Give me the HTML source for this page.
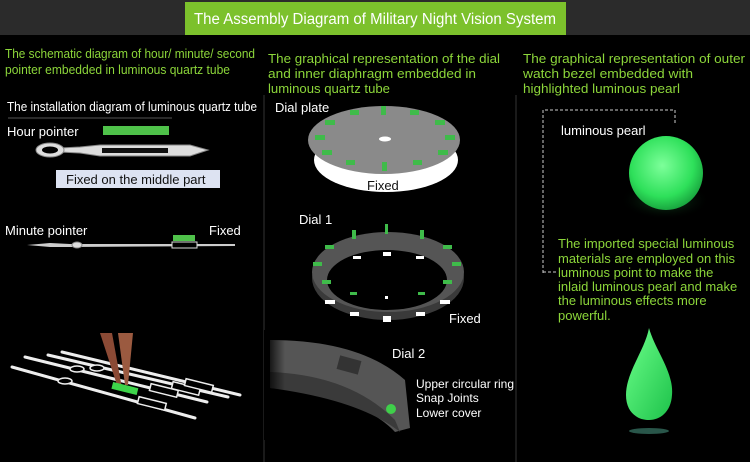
<!DOCTYPE html>
<html><head><meta charset="utf-8"><style>
body{margin:0;background:#000;}
svg{display:block;font-family:"Liberation Sans",sans-serif;}
</style></head><body>
<svg width="750" height="462" viewBox="0 0 750 462">
<defs>
<radialGradient id="pearl" cx="0.45" cy="0.4" r="0.6"><stop offset="0" stop-color="#7dff9a"/><stop offset="0.7" stop-color="#2ee05a"/><stop offset="1" stop-color="#1aa840"/></radialGradient>
<radialGradient id="glow" cx="0.5" cy="0.5" r="0.5"><stop offset="0" stop-color="#1f8a3a" stop-opacity="0.6"/><stop offset="1" stop-color="#000" stop-opacity="0"/></radialGradient>
<linearGradient id="drop" x1="0" y1="0" x2="1" y2="1"><stop offset="0" stop-color="#6cff8a"/><stop offset="1" stop-color="#1dc24a"/></linearGradient>
<linearGradient id="fade" x1="0" y1="0" x2="1" y2="0"><stop offset="0" stop-color="#000" stop-opacity="1"/><stop offset="0.3" stop-color="#000" stop-opacity="0"/></linearGradient>
</defs>
<rect width="750" height="462" fill="#000"/>
<rect width="750" height="35" fill="#2b2b2b"/>
<rect x="185" y="2" width="381" height="33" fill="#7cc12c"/>
<text x="375" y="24" font-size="15.5" fill="#fff" text-anchor="middle" textLength="362" lengthAdjust="spacingAndGlyphs">The Assembly Diagram of Military Night Vision System</text>
<line x1="264" y1="95" x2="264" y2="462" stroke="#333" stroke-width="1"/>
<line x1="516" y1="95" x2="516" y2="462" stroke="#333" stroke-width="1"/>

<g fill="#8cd63a" font-size="13">
<text x="5" y="58" textLength="250" lengthAdjust="spacingAndGlyphs">The schematic diagram of hour/ minute/ second</text>
<text x="5" y="74" textLength="225" lengthAdjust="spacingAndGlyphs">pointer embedded in luminous quartz tube</text>
<text x="268" y="63" textLength="232" lengthAdjust="spacingAndGlyphs">The graphical representation of the dial</text>
<text x="268" y="78" textLength="208" lengthAdjust="spacingAndGlyphs">and inner diaphragm embedded in</text>
<text x="268" y="93" textLength="122" lengthAdjust="spacingAndGlyphs">luminous quartz tube</text>
<text x="523" y="63" textLength="222" lengthAdjust="spacingAndGlyphs">The graphical representation of outer</text>
<text x="523" y="78" textLength="170" lengthAdjust="spacingAndGlyphs">watch bezel embedded with</text>
<text x="523" y="93" textLength="157" lengthAdjust="spacingAndGlyphs">highlighted luminous pearl</text>
</g>

<!-- left column -->
<text x="7" y="111" font-size="12.5" fill="#fff" textLength="250" lengthAdjust="spacingAndGlyphs">The installation diagram of luminous quartz tube</text>
<line x1="8" y1="118" x2="172" y2="118" stroke="#555"/>
<text x="7" y="136" font-size="13" fill="#fff">Hour pointer</text>
<rect x="103" y="126" width="66" height="9" fill="#4fc24a"/>
<g fill="#ddd" stroke="#888" stroke-width="1">
<path d="M60 148 L80 147 L100 145 L190 145 L208 150 L190 156 L100 156 L80 153 L60 152Z"/>
<ellipse cx="50" cy="150" rx="14" ry="7"/>
</g>
<ellipse cx="50" cy="150" rx="8" ry="3.5" fill="#000"/>
<rect x="102" y="148" width="66" height="5" fill="#111"/>
<rect x="56" y="170" width="164" height="18" fill="#dde3f2"/>
<text x="66" y="184" font-size="13" fill="#111">Fixed on the middle part</text>
<text x="5" y="235" font-size="13" fill="#fff">Minute pointer</text>
<text x="209" y="235" font-size="13" fill="#fff">Fixed</text>
<rect x="173" y="235" width="22" height="6" fill="#4fc24a"/>
<path d="M27 245 L50 243 L70 244 L235 244 L235 246 L70 247 L50 247Z" fill="#ccc"/>
<ellipse cx="77" cy="245" rx="5" ry="3" fill="#ddd" stroke="#888"/>
<rect x="172" y="242" width="25" height="6" fill="#000" stroke="#ddd"/>
<!-- hands with tweezers -->
<g stroke="#eee" stroke-width="3" fill="none" stroke-linecap="round">
<line x1="12" y1="367" x2="195" y2="418"/>
<line x1="25" y1="357" x2="207" y2="402"/>
<line x1="48" y1="355" x2="228" y2="397"/>
<line x1="62" y1="352" x2="240" y2="395"/>
</g>
<g stroke="#eee" stroke-width="1.5" fill="#000">
<rect x="138" y="400" width="28" height="7" transform="rotate(14 152 403)"/>
<rect x="150" y="387" width="28" height="7" transform="rotate(14 164 390)"/>
<rect x="172" y="385" width="28" height="7" transform="rotate(14 186 388)"/>
<rect x="185" y="382" width="28" height="7" transform="rotate(14 199 385)"/>
<ellipse cx="65" cy="381" rx="7" ry="3"/>
<ellipse cx="77" cy="369" rx="7" ry="3"/>
<ellipse cx="97" cy="368" rx="7" ry="3"/>
</g>
<polygon points="100,333 112,333 122,388 118,388" fill="#8b4a35"/>
<polygon points="118,333 133,333 128,385 125,385" fill="#9b5a40"/>
<rect x="112" y="385" width="26" height="7" fill="#3ed44a" transform="rotate(14 125 388)"/>

<!-- middle: dial plate -->
<text x="275" y="112" font-size="13" fill="#fff">Dial plate</text>
<ellipse cx="386" cy="160" rx="72" ry="32" fill="#fff"/>
<ellipse cx="384" cy="140" rx="76" ry="34" fill="#8a8a8a"/>
<ellipse cx="385" cy="139" rx="6" ry="2.5" fill="#fff"/>
<g fill="#3fbb4a">
<rect x="381" y="106" width="5" height="9"/><rect x="350" y="110" width="9" height="5"/><rect x="410" y="110" width="9" height="5"/>
<rect x="325" y="120" width="10" height="5"/><rect x="435" y="120" width="10" height="5"/>
<rect x="315" y="135" width="10" height="5"/><rect x="445" y="135" width="10" height="5"/>
<rect x="322" y="150" width="10" height="5"/><rect x="438" y="150" width="10" height="5"/>
<rect x="346" y="160" width="9" height="5"/><rect x="413" y="160" width="9" height="5"/>
<rect x="382" y="162" width="5" height="9"/>
</g>
<text x="367" y="190" font-size="13" fill="#111">Fixed</text>

<!-- Dial 1 -->
<text x="299" y="224" font-size="13" fill="#fff">Dial 1</text>
<ellipse cx="388" cy="278" rx="76" ry="42" fill="#3a3a3a"/>
<ellipse cx="388" cy="272" rx="76" ry="40" fill="#555"/>
<ellipse cx="387" cy="280" rx="60" ry="30" fill="#000"/>
<g fill="#3fbb4a">
<rect x="385" y="224" width="3" height="10"/><rect x="352" y="230" width="4" height="9"/><rect x="420" y="230" width="4" height="9"/>
<rect x="325" y="245" width="9" height="4"/><rect x="443" y="245" width="9" height="4"/>
<rect x="313" y="262" width="9" height="4"/><rect x="452" y="262" width="9" height="4"/>
<rect x="322" y="280" width="9" height="4"/><rect x="443" y="280" width="9" height="4"/>
<rect x="350" y="292" width="7" height="3"/><rect x="418" y="292" width="7" height="3"/>
</g>
<g fill="#fff">
<rect x="383" y="252" width="8" height="4"/><rect x="353" y="256" width="8" height="3"/><rect x="416" y="256" width="8" height="3"/>
<rect x="325" y="300" width="10" height="4"/><rect x="440" y="300" width="10" height="4"/>
<rect x="350" y="312" width="9" height="4"/><rect x="416" y="312" width="9" height="4"/>
<rect x="383" y="316" width="8" height="6"/><rect x="385" y="296" width="3" height="3"/>
</g>
<text x="449" y="323" font-size="13" fill="#fff">Fixed</text>

<!-- Dial 2 -->
<text x="392" y="358" font-size="13" fill="#fff">Dial 2</text>
<path d="M270 340 Q360 340 405 380 L410 428 L395 432 Q360 395 270 388Z" fill="#555"/>
<path d="M270 372 Q350 375 395 420 L400 432 Q360 400 270 388Z" fill="#3a3a3a"/>
<rect x="338" y="358" width="22" height="14" fill="#333" transform="rotate(15 349 365)"/>
<rect x="264" y="330" width="70" height="110" fill="url(#fade)"/>
<circle cx="391" cy="409" r="5" fill="#3fcf4a"/>
<g font-size="12" fill="#fff"><text x="416" y="388">Upper circular ring</text><text x="416" y="402">Snap Joints</text><text x="416" y="417">Lower cover</text></g>

<!-- right column -->
<path d="M543 273 V110 H675 V125" fill="none" stroke="#ccc" stroke-dasharray="3,2"/>
<line x1="543" y1="272" x2="556" y2="272" stroke="#ccc" stroke-dasharray="3,2"/>
<text x="561" y="135" font-size="13" fill="#fff">luminous pearl</text>
<ellipse cx="665" cy="200" rx="45" ry="20" fill="url(#glow)"/>
<circle cx="666" cy="173" r="37" fill="url(#pearl)"/>
<g fill="#8cd63a" font-size="13">
<text x="558" y="248">The imported special luminous</text>
<text x="558" y="263">materials are employed on this</text>
<text x="558" y="277">luminous point to make the</text>
<text x="558" y="291">inlaid luminous pearl and make</text>
<text x="558" y="305">the luminous effects more</text>
<text x="558" y="320">powerful.</text>
</g>
<path d="M649 328 C655 350 674 372 672 395 C671 412 660 420 649 420 C637 420 626 412 626 395 C626 372 645 350 649 328Z" fill="url(#drop)"/>
<ellipse cx="649" cy="431" rx="20" ry="3" fill="#3a7a6a" opacity="0.7"/>
</svg>
</body></html>
